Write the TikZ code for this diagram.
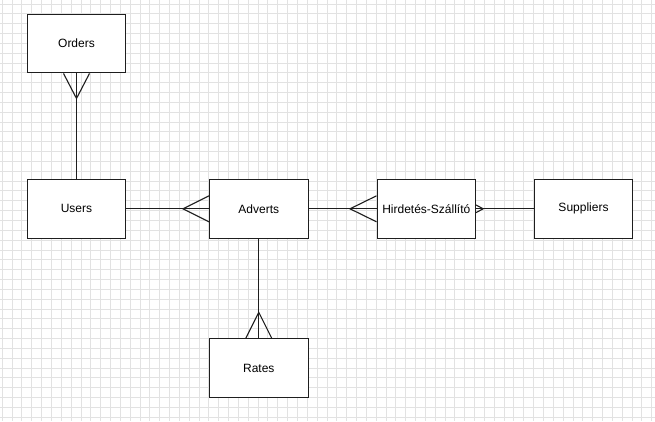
\documentclass[tikz,border=0pt]{standalone}
\usepackage{fontspec}
\setmainfont{Liberation Sans}
\usetikzlibrary{calc}
\definecolor{gridgrey}{HTML}{E2E2E2}
\definecolor{edgeblack}{HTML}{1E1E1E}
\tikzset{
  entity/.style={draw=edgeblack, line width=1.1pt, fill=white,
    minimum width=98.5pt, minimum height=58.8pt, inner sep=0pt,
    font=\fontsize{12}{14}\selectfont},
  link/.style={draw=edgeblack, line width=1.1pt},
  gridline/.style={draw=gridgrey, line width=1pt}
}
\begin{document}
\begin{tikzpicture}[x=1pt, y=-1pt]
  % canvas and background grid
  \fill[white] (0,0) rectangle (655,421);
  \useasboundingbox (0,0) rectangle (655,421);
  \foreach \i in {0,...,66} {
    \draw[gridline] ({2.3+9.84*\i},0) -- ({2.3+9.84*\i},421);
  }
  \foreach \j in {0,...,42} {
    \draw[gridline] (0,{4+9.84*\j}) -- (655,{4+9.84*\j});
  }

  % entities
  \node[entity] (orders)    at (76.5,43.5)   {Orders};
  \node[entity] (users)     at (76.5,208.8)  {Users};
  \node[entity] (adverts)   at (258.8,208.8) {Adverts};
  \node[entity] (hirdetes)  at (426.3,208.8) {Hirdetés-Szállító};
  \node[entity] (suppliers) at (583.5,208.8) {Suppliers};
  \node[entity] (rates)     at (258.8,368.3) {Rates};

  % relationships
  \draw[link] (orders.south) -- (users.north);
  \draw[link] ($(orders.south)+(-13,0)$) -- ($(orders.south)+(0,25)$) -- ($(orders.south)+(13,0)$);

  \draw[link] (users.east) -- (adverts.west);
  \draw[link] ($(adverts.west)+(0,-13)$) -- ($(adverts.west)+(-26,0)$) -- ($(adverts.west)+(0,13)$);

  \draw[link] (adverts.east) -- (hirdetes.west);
  \draw[link] ($(hirdetes.west)+(0,-13)$) -- ($(hirdetes.west)+(-26.5,0)$) -- ($(hirdetes.west)+(0,13)$);

  \draw[link] (hirdetes.east) -- (suppliers.west);
  \draw[link] ($(hirdetes.east)+(0,-3.8)$) -- ($(hirdetes.east)+(7,0)$) -- ($(hirdetes.east)+(0,3.8)$);

  \draw[link] (adverts.south) -- (rates.north);
  \draw[link] ($(rates.north)+(-13,0)$) -- ($(rates.north)+(0,-26)$) -- ($(rates.north)+(13,0)$);
\end{tikzpicture}
\end{document}
